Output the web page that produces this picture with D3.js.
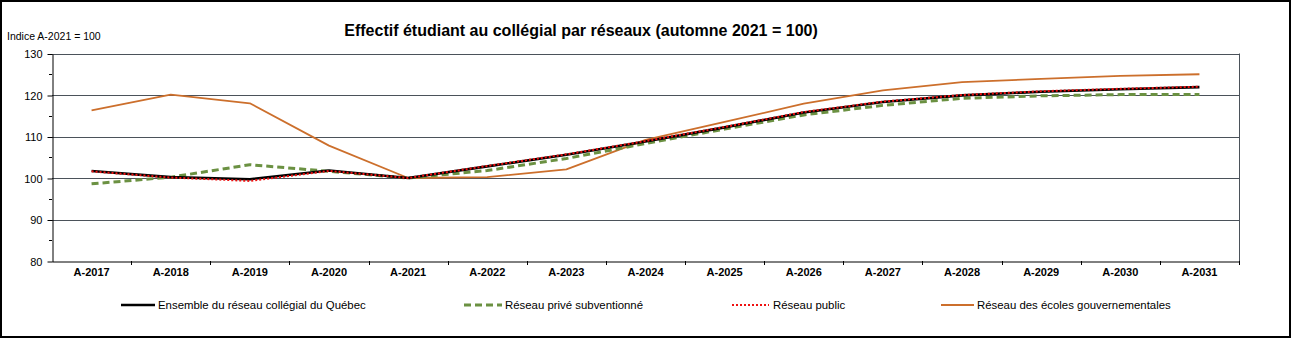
<!DOCTYPE html>
<html><head><meta charset="utf-8">
<script src="https://cdn.jsdelivr.net/npm/d3@7"></script>
<style>
html,body{margin:0;padding:0;background:#fff;}
svg{display:block;font-family:"Liberation Sans",Arial,sans-serif;}
</style></head>
<body>
<svg id="c" width="1295" height="339"></svg>
<script>
const categories = ["A-2017","A-2018","A-2019","A-2020","A-2021","A-2022","A-2023","A-2024","A-2025","A-2026","A-2027","A-2028","A-2029","A-2030","A-2031"];
const ensemble = [101.7,100.2,99.7,101.8,100.0,102.8,105.6,108.8,112.2,115.8,118.3,119.9,120.8,121.4,121.9];
const prive    = [98.6,100.2,103.2,101.6,100.0,101.8,104.7,108.3,111.8,115.2,117.5,119.2,119.8,120.1,120.1];
const publicR  = [101.6,100.1,99.3,101.7,100.0,102.9,105.7,108.9,112.3,115.9,118.4,120.0,120.9,121.5,122.0];
const gouv     = [116.3,120.1,118.0,107.8,100.0,100.2,102.1,109.2,113.5,117.9,121.1,123.1,123.9,124.6,125.0];
const yTicks = [80,90,100,110,120,130];
const yMinor = [85,95,105,115,125];
const seriesNames = ["Ensemble du réseau collégial du Québec","Réseau privé subventionné","Réseau public","Réseau des écoles gouvernementales"];
const titleText = "Effectif étudiant au collégial par réseaux (automne 2021 = 100)";
const yAxisTitle = "Indice A-2021 = 100";

const svg = d3.select("#c");
const L = 52, R = 1239, T = 53.5, B = 261;
const x = d3.scaleBand().domain(categories).range([L, R]);
const y = d3.scaleLinear().domain([80,130]).range([B, T]);

// frame
svg.append("rect").attr("x",1).attr("y",1).attr("width",1289).attr("height",336)
  .attr("fill","none").attr("stroke","#000").attr("stroke-width",2);

// title
svg.append("text").attr("x",581).attr("y",36).attr("text-anchor","middle")
  .attr("font-weight","bold").attr("font-size",16).attr("fill","#000").text(titleText);
svg.append("text").attr("x",7).attr("y",40).attr("font-size",10.5).attr("fill","#000").text(yAxisTitle);

// gridlines
svg.append("g").selectAll("line").data(yTicks.filter(d=>d>80)).join("line")
  .attr("x1",L).attr("x2",R).attr("y1",d=>Math.round(y(d))+0.5).attr("y2",d=>Math.round(y(d))+0.5)
  .attr("stroke","#4b525a").attr("stroke-width",1);
// right border
svg.append("line").attr("x1",R+0.5).attr("x2",R+0.5).attr("y1",y(130)).attr("y2",B+4)
  .attr("stroke","#4b525a").attr("stroke-width",1);

// y axis
const ya = svg.append("g").attr("transform",`translate(${L+0.5},0.5)`)
  .call(d3.axisLeft(y).tickValues(yTicks).tickSize(5).tickSizeOuter(0).tickPadding(5));
ya.select(".domain").attr("stroke","#000");
ya.selectAll(".tick line").attr("stroke","#000");
ya.selectAll(".tick text").attr("font-size",11).attr("fill","#000").attr("font-family","Liberation Sans, Arial, sans-serif");
svg.append("g").selectAll("line").data(yMinor).join("line")
  .attr("x1",L-3).attr("x2",L).attr("y1",d=>Math.round(y(d))+0.5).attr("y2",d=>Math.round(y(d))+0.5)
  .attr("stroke","#000");

// x axis
const xa = svg.append("g").attr("transform",`translate(0,${B+0.5})`)
  .call(d3.axisBottom(x).tickSize(0).tickPadding(7));
xa.select(".domain").attr("stroke","#000");
xa.selectAll(".tick text").attr("font-size",11).attr("font-weight","bold").attr("fill","#000")
  .attr("font-family","Liberation Sans, Arial, sans-serif");
const bounds = categories.map(c=>x(c)).concat([R]);
svg.append("g").selectAll("line").data(bounds.slice(1)).join("line")
  .attr("x1",d=>Math.round(d)+0.5).attr("x2",d=>Math.round(d)+0.5).attr("y1",B).attr("y2",B+4)
  .attr("stroke","#000");

const cx = c => x(c) + x.bandwidth()/2;
const line = d3.line().x((d,i)=>cx(categories[i])).y(d=>y(d));

const styles = [
  {data:ensemble, stroke:"#000000", w:2.6, dash:null},
  {data:prive, stroke:"#6b9142", w:3, dash:"7,4"},
  {data:publicR, stroke:"#ee1111", w:2, dash:"2,2"},
  {data:gouv, stroke:"#cc6f2c", w:1.8, dash:null}
];
// draw order: gouv, prive, ensemble, public
[3,1,0,2].forEach(k=>{
  const s = styles[k];
  svg.append("path").datum(s.data).attr("d",line).attr("fill","none")
    .attr("stroke",s.stroke).attr("stroke-width",s.w)
    .attr("stroke-dasharray",s.dash).attr("stroke-linejoin","round");
});

// legend
const legX = [[121,155,158],[464,502,505],[732,769,773],[941,974,977]];
const legY = 305;
styles.forEach((s,i)=>{
  const g = svg.append("g");
  g.append("line").attr("x1",legX[i][0]).attr("x2",legX[i][1]).attr("y1",legY).attr("y2",legY)
    .attr("stroke",s.stroke).attr("stroke-width",s.w).attr("stroke-dasharray",s.dash);
  g.append("text").attr("x",legX[i][2]).attr("y",legY+4).attr("font-size",11.4).attr("fill","#000").text(seriesNames[i]);
});
</script>
</body></html>
